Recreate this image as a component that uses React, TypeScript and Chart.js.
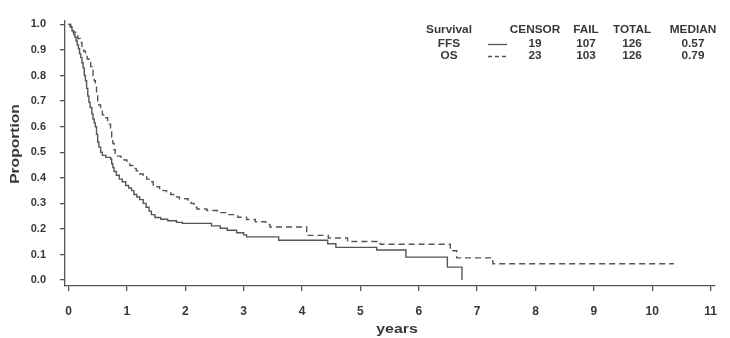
import React, { useEffect, useRef } from "react";
import { Chart, registerables } from "chart.js";

Chart.register(...registerables);

// Kaplan-Meier estimates (time in years, survival proportion)
const ffsTimes = [0, 0.03, 0.06, 0.09, 0.11, 0.13, 0.15, 0.17, 0.19, 0.21, 0.23, 0.25, 0.27, 0.29, 0.31, 0.33, 0.35, 0.37, 0.4, 0.42, 0.44, 0.46, 0.48, 0.5, 0.52, 0.55, 0.58, 0.64, 0.72, 0.74, 0.76, 0.78, 0.82, 0.87, 0.92, 0.98, 1.03, 1.08, 1.12, 1.17, 1.22, 1.28, 1.33, 1.38, 1.42, 1.48, 1.58, 1.7, 1.85, 1.95, 2.45, 2.6, 2.72, 2.88, 3.0, 3.05, 3.6, 4.44, 4.58, 5.28, 5.78, 6.49, 6.74];
const ffsSurv = [1.0, 0.99, 0.975, 0.96, 0.95, 0.935, 0.92, 0.905, 0.885, 0.87, 0.85, 0.83, 0.8, 0.78, 0.75, 0.72, 0.695, 0.675, 0.65, 0.63, 0.615, 0.6, 0.57, 0.54, 0.52, 0.5, 0.488, 0.48, 0.474, 0.455, 0.44, 0.425, 0.41, 0.395, 0.385, 0.37, 0.36, 0.35, 0.335, 0.325, 0.315, 0.3, 0.285, 0.27, 0.256, 0.245, 0.238, 0.232, 0.226, 0.222, 0.212, 0.203, 0.195, 0.185, 0.177, 0.169, 0.156, 0.142, 0.128, 0.118, 0.09, 0.051, 0.0];

const osTimes = [0, 0.04, 0.08, 0.12, 0.16, 0.2, 0.23, 0.26, 0.29, 0.32, 0.35, 0.38, 0.4, 0.42, 0.44, 0.46, 0.48, 0.5, 0.52, 0.55, 0.58, 0.62, 0.67, 0.7, 0.72, 0.74, 0.76, 0.78, 0.8, 0.84, 0.9, 0.95, 1.0, 1.05, 1.1, 1.16, 1.22, 1.28, 1.34, 1.4, 1.45, 1.5, 1.56, 1.62, 1.68, 1.75, 1.82, 1.9, 2.05, 2.1, 2.15, 2.2, 2.37, 2.55, 2.71, 2.9, 3.05, 3.2, 3.38, 3.45, 4.08, 4.45, 4.78, 5.34, 6.54, 6.65, 7.27, 10.37];
const osSurv = [1.0, 0.99, 0.97, 0.955, 0.945, 0.93, 0.91, 0.895, 0.88, 0.865, 0.85, 0.835, 0.82, 0.8, 0.78, 0.755, 0.725, 0.7, 0.685, 0.665, 0.647, 0.635, 0.62, 0.61, 0.585, 0.56, 0.535, 0.51, 0.495, 0.485, 0.478, 0.47, 0.46, 0.448, 0.437, 0.428, 0.415, 0.405, 0.395, 0.385, 0.372, 0.365, 0.358, 0.35, 0.342, 0.335, 0.325, 0.318, 0.31, 0.3, 0.285, 0.278, 0.272, 0.264, 0.256, 0.246, 0.237, 0.228, 0.218, 0.208, 0.175, 0.165, 0.151, 0.14, 0.115, 0.087, 0.064, 0.064];

const xTickValues = [0, 1, 2, 3, 4, 5, 6, 7, 8, 9, 10, 11];
const yTickValues = [0, 0.1, 0.2, 0.3, 0.4, 0.5, 0.6, 0.7, 0.8, 0.9, 1.0];

const legendHeaders = ["Survival", "CENSOR", "FAIL", "TOTAL", "MEDIAN"];
const legendRows = [
  ["FFS", "19", "107", "126", "0.57"],
  ["OS", "23", "103", "126", "0.79"],
];
const xTitle = "years";
const yTitle = "Proportion";

const INK = "#383838";
const LINE = "#555555";
const FONT = 'Arial, "Liberation Sans", sans-serif';

function stretchedText(ctx: CanvasRenderingContext2D, text: string, x: number, y: number, sx: number, rot = 0) {
  ctx.save();
  ctx.translate(x, y);
  ctx.rotate(rot);
  ctx.scale(sx, 1);
  ctx.fillText(text, 0, 0);
  ctx.restore();
}

const annotationPlugin = {
  id: "kmAnnotations",
  afterDraw(chart: any) {
    const ctx: CanvasRenderingContext2D = chart.ctx;
    ctx.save();
    ctx.fillStyle = INK;
    ctx.textAlign = "center";
    ctx.textBaseline = "middle";
    ctx.font = `bold 10px ${FONT}`;
    const colX = [449, 535, 586, 632, 693];
    const rowY = [30, 44, 56];
    legendHeaders.forEach((h, i) => stretchedText(ctx, h, colX[i], rowY[0], 1.18));
    legendRows.forEach((row, r) => {
      row.forEach((t, i) => stretchedText(ctx, t, colX[i], rowY[r + 1], 1.18));
    });
    // line samples
    ctx.strokeStyle = LINE;
    ctx.lineWidth = 1.3;
    ctx.beginPath();
    ctx.moveTo(488, 44.5);
    ctx.lineTo(507, 44.5);
    ctx.stroke();
    ctx.setLineDash([4, 3]);
    ctx.beginPath();
    ctx.moveTo(488, 56.5);
    ctx.lineTo(507, 56.5);
    ctx.stroke();
    ctx.setLineDash([]);
    // axis titles
    ctx.font = `bold 13px ${FONT}`;
    stretchedText(ctx, xTitle, 397, 329, 1.22);
    stretchedText(ctx, yTitle, 15, 144, 1.2, -Math.PI / 2);
    ctx.restore();
  },
};

export default function App() {
  const canvasRef = useRef<HTMLCanvasElement | null>(null);

  useEffect(() => {
    document.body.style.margin = "0";
    const canvas = canvasRef.current;
    if (!canvas) return;
    const ffsData = ffsTimes.map((t, i) => ({ x: t, y: ffsSurv[i] }));
    const osData = osTimes.map((t, i) => ({ x: t, y: osSurv[i] }));

    const chart = new Chart(canvas, {
      type: "line",
      data: {
        datasets: [
          {
            label: "FFS",
            data: ffsData,
            stepped: "before",
            borderColor: LINE,
            borderWidth: 1.4,
            pointRadius: 0,
            fill: false,
          },
          {
            label: "OS",
            data: osData,
            stepped: "before",
            borderColor: LINE,
            borderWidth: 1.4,
            borderDash: [6, 4],
            pointRadius: 0,
            fill: false,
          },
        ],
      },
      options: {
        animation: false,
        responsive: false,
        maintainAspectRatio: false,
        layout: { padding: { top: 16, right: 2, left: 0, bottom: 0 } },
        plugins: {
          legend: { display: false },
          tooltip: { enabled: false },
          title: { display: false },
        },
        scales: {
          x: {
            type: "linear",
            min: -0.06,
            max: 11.07,
            afterBuildTicks: (scale: any) => {
              scale.ticks = xTickValues.map((v) => ({ value: v }));
            },
            afterFit: (scale: any) => {
              scale.height = 52;
            },
            ticks: {
              autoSkip: false,
              maxRotation: 0,
              padding: 13,
              color: INK,
              font: { family: FONT, size: 12, weight: "bold" },
              callback: (v: any) => String(v),
            },
            grid: {
              drawOnChartArea: false,
              drawTicks: true,
              tickLength: 5,
              color: LINE,
              lineWidth: 1.3,
            },
            border: { display: true, color: LINE, width: 1.3 },
          },
          y: {
            type: "linear",
            min: -0.023,
            max: 1.015,
            afterBuildTicks: (scale: any) => {
              scale.ticks = yTickValues.map((v) => ({ value: v }));
            },
            afterFit: (scale: any) => {
              scale.width = 65;
            },
            ticks: {
              autoSkip: false,
              padding: 14,
              color: INK,
              font: { family: FONT, size: 11, weight: "bold" },
              callback: (v: any) => Number(v).toFixed(1),
            },
            grid: {
              drawOnChartArea: false,
              drawTicks: true,
              tickLength: 5,
              color: LINE,
              lineWidth: 1.3,
            },
            border: { display: true, color: LINE, width: 1.3 },
          },
        },
      },
      plugins: [annotationPlugin],
    });

    return () => {
      chart.destroy();
    };
  }, []);

  return (
    <div style={{ width: 730, height: 338, background: "#ffffff" }}>
      <canvas ref={canvasRef} width={730} height={338} style={{ display: "block", width: 730, height: 338 }} />
    </div>
  );
}
